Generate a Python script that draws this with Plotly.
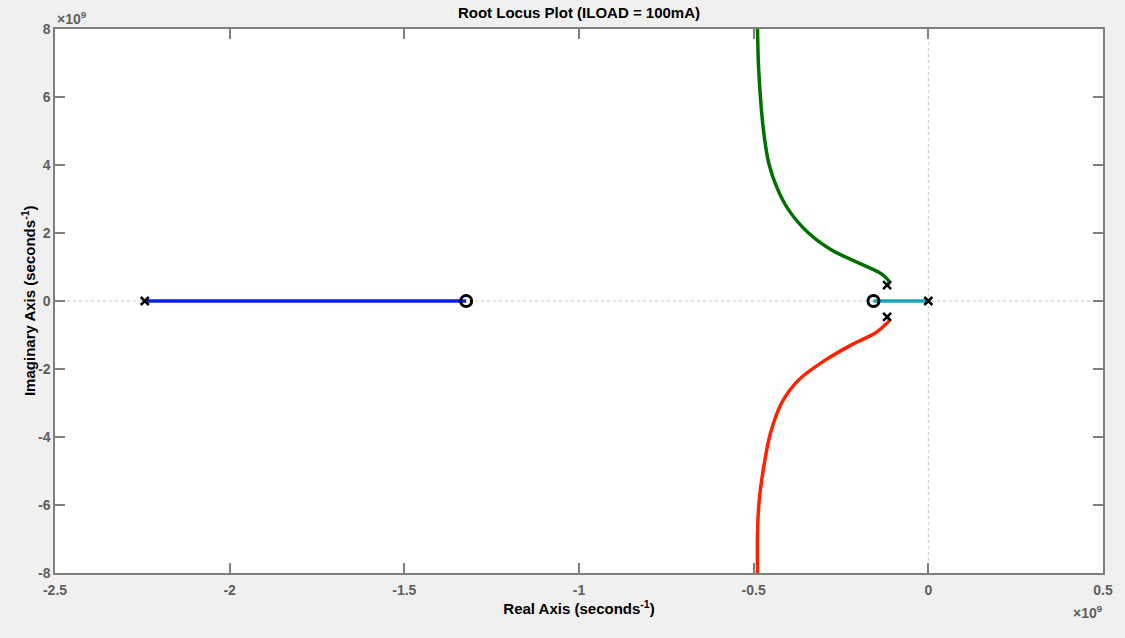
import plotly.graph_objects as go

# values in units of 1e9 s^-1
poles_re = [-2.243, -0.118, -0.118, 0.0]
poles_im = [0.0, 0.47, -0.47, 0.0]
zeros_re = [-1.323, -0.157]
zeros_im = [0.0, 0.0]

blue_re = [-2.243, -1.323]
blue_im = [0.0, 0.0]
cyan_re = [-0.157, 0.0]
cyan_im = [0.0, 0.0]

green_re = [-0.118, -0.112, -0.125, -0.143, -0.2, -0.277, -0.343, -0.4, -0.434, -0.457, -0.471, -0.48, -0.486, -0.489]
green_im = [0.47, 0.55, 0.72, 0.85, 1.12, 1.5, 2.0, 2.68, 3.35, 4.06, 4.94, 5.91, 6.88, 8.0]
red_re = [-0.118, -0.112, -0.128, -0.152, -0.22, -0.295, -0.371, -0.42, -0.452, -0.471, -0.484, -0.489, -0.489]
red_im = [-0.47, -0.56, -0.74, -0.94, -1.29, -1.74, -2.32, -3.0, -3.89, -4.87, -5.85, -6.83, -8.0]

x_ticks = [-2.5, -2, -1.5, -1, -0.5, 0, 0.5]
x_ticktext = ["-2.5", "-2", "-1.5", "-1", "-0.5", "0", "0.5"]
y_ticks = [-8, -6, -4, -2, 0, 2, 4, 6, 8]
y_ticktext = ["-8", "-6", "-4", "-2", "0", "2", "4", "6", "8"]

FONT = "Liberation Sans, Arial, Helvetica, sans-serif"
AX = "#7f7f7f"
TXT = "#5e5e5e"

fig = go.Figure()
fig.add_trace(go.Scatter(x=blue_re, y=blue_im, mode="lines", line=dict(color="#0a1ee6", width=3.5)))
fig.add_trace(go.Scatter(x=cyan_re, y=cyan_im, mode="lines", line=dict(color="#17a8b8", width=3.5)))
fig.add_trace(go.Scatter(x=green_re, y=green_im, mode="lines", line=dict(color="#007000", width=3.5, shape="spline")))
fig.add_trace(go.Scatter(x=red_re, y=red_im, mode="lines", line=dict(color="#ff2200", width=3.5, shape="spline")))
fig.add_trace(go.Scatter(x=poles_re, y=poles_im, mode="markers",
                         marker=dict(symbol="x-thin", size=8, color="black", line=dict(color="black", width=2.5))))
fig.add_trace(go.Scatter(x=zeros_re, y=zeros_im, mode="markers",
                         marker=dict(symbol="circle-open", size=11, color="black", line=dict(color="black", width=3))))

fig.add_shape(type="line", xref="paper", yref="y", x0=0, x1=1, y0=0, y1=0,
              line=dict(color="#c4c4c4", width=1, dash="dot"), layer="below")
fig.add_shape(type="line", xref="x", yref="paper", x0=0, x1=0, y0=0, y1=1,
              line=dict(color="#c4c4c4", width=1, dash="dot"), layer="below")

axis_common = dict(showline=True, linecolor=AX, linewidth=1.5, mirror="ticks", ticks="inside",
                   ticklen=10, tickcolor=AX, tickwidth=1.5, showgrid=False, zeroline=False,
                   tickfont=dict(family=FONT, size=14, color=TXT, weight="bold"))

fig.update_layout(
    width=1125, height=638,
    paper_bgcolor="#f0f0f0", plot_bgcolor="white",
    margin=dict(l=55, r=20, t=29, b=65),
    showlegend=False,
    font=dict(family=FONT),
    title=dict(text="<b>Root Locus Plot (ILOAD = 100mA)</b>", x=0.5, xanchor="center",
               xref="paper", y=0.98, yanchor="middle", font=dict(size=15, color="black", family=FONT)),
    xaxis=dict(range=[-2.5, 0.5], tickvals=x_ticks, ticktext=x_ticktext, ticklabelstandoff=3,
               title=dict(text="<b>Real Axis (seconds<sup>-1</sup>)</b>", standoff=3,
                          font=dict(size=15, color="black", family=FONT)), **axis_common),
    yaxis=dict(range=[-8, 8], tickvals=y_ticks, ticktext=y_ticktext, ticklabelstandoff=0, **axis_common),
)

fig.add_annotation(text="<b>Imaginary Axis (seconds<sup>-1</sup>)</b>", xref="paper", yref="paper",
                   x=-27 / 1050, y=0.5, xanchor="center", yanchor="middle", textangle=-90,
                   showarrow=False, font=dict(size=15, color="black", family=FONT))
fig.add_annotation(text="<b>×10<sup>9</sup></b>", xref="paper", yref="paper", x=0.0, y=1.0,
                   xanchor="left", yanchor="bottom", showarrow=False, xshift=0, yshift=0,
                   font=dict(size=14, color=TXT, family=FONT))
fig.add_annotation(text="<b>×10<sup>9</sup></b>", xref="paper", yref="paper", x=1.0, y=0.0,
                   xanchor="right", yanchor="top", showarrow=False, yshift=-28, xshift=2,
                   font=dict(size=14, color=TXT, family=FONT))

fig.write_html("out.html")
